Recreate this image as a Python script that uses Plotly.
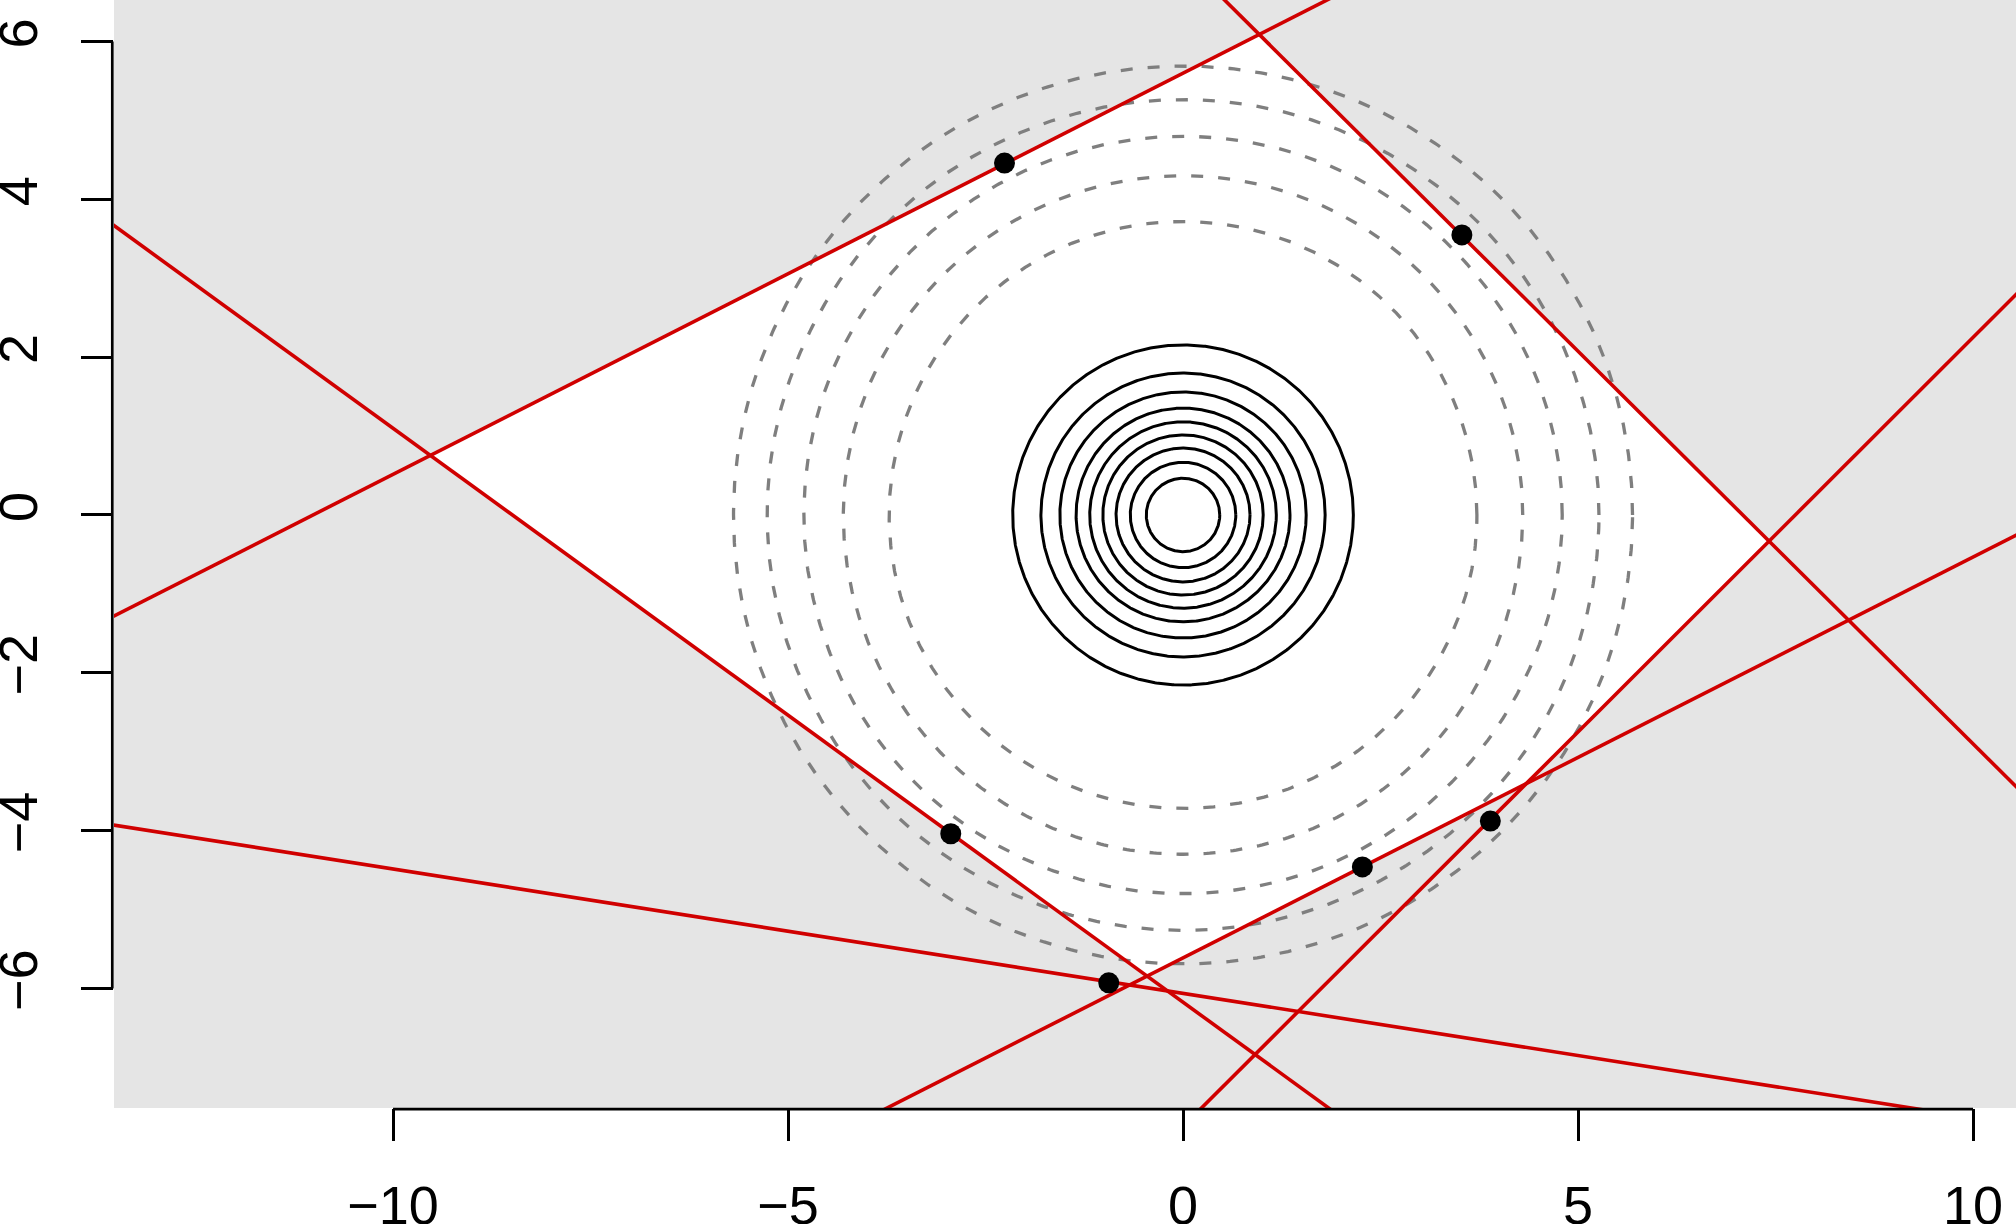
import numpy as np
import plotly.graph_objects as go

# ---- data ----
line_names = ["A", "B", "C", "D", "E", "F"]
line_slopes = [-0.7274, 0.5085, -0.995, 1.0, 0.508, -0.1576]
line_intercepts = [-6.175, 5.60, 7.05, -7.75, -5.613, -6.063]

point_x = [-2.26, 3.53, -2.94, 2.27, 3.89, -0.94]
point_y = [4.46, 3.55, -4.04, -4.46, -3.88, -5.93]

dashed_radii = [3.72, 4.30, 4.80, 5.265, 5.69]
solid_radii = [0.465, 0.668, 0.848, 1.015, 1.181, 1.354, 1.559, 1.799, 2.156]

x_ticks = [-10, -5, 0, 5, 10]
y_ticks = [-6, -4, -2, 0, 2, 4, 6]

X_RANGE = [-13.532, 10.544]
Y_RANGE = [-7.516, 6.527]

RED = "#D00000"
GRAY_BG = "#E5E5E5"
DASH_GRAY = "#7F7F7F"


def clip_halfplane(poly, m, c):
    """Keep part of polygon on the origin side of y = m x + c."""
    s0 = np.sign(-c) if c != 0 else 1.0

    def f(p):
        return s0 * (p[1] - (m * p[0] + c))

    out = []
    n = len(poly)
    for i in range(n):
        p, q = poly[i], poly[(i + 1) % n]
        fp, fq = f(p), f(q)
        if fp >= 0:
            out.append(p)
        if (fp >= 0) != (fq >= 0):
            t = fp / (fp - fq)
            out.append((p[0] + t * (q[0] - p[0]), p[1] + t * (q[1] - p[1])))
    return out


# feasible (white) region = intersection of half-planes containing the origin
poly = [(-50, -50), (50, -50), (50, 50), (-50, 50)]
for m, c in zip(line_slopes, line_intercepts):
    poly = clip_halfplane(poly, m, c)
px = [p[0] for p in poly] + [poly[0][0]]
py = [p[1] for p in poly] + [poly[0][1]]

fig = go.Figure()
fig.add_trace(go.Scatter(x=px, y=py, mode="lines", fill="toself",
                         fillcolor="white", line=dict(width=0, color="white"),
                         hoverinfo="skip", showlegend=False))

theta = np.linspace(0, 2 * np.pi, 721)
for r in dashed_radii:
    fig.add_trace(go.Scatter(x=r * np.cos(theta), y=r * np.sin(theta), mode="lines",
                             line=dict(color=DASH_GRAY, width=3.3, dash="12px,15px"),
                             hoverinfo="skip", showlegend=False))
for r in solid_radii:
    fig.add_trace(go.Scatter(x=r * np.cos(theta), y=r * np.sin(theta), mode="lines",
                             line=dict(color="black", width=3.0),
                             hoverinfo="skip", showlegend=False))

xs = np.array([-20.0, 20.0])
for name, m, c in zip(line_names, line_slopes, line_intercepts):
    fig.add_trace(go.Scatter(x=xs, y=m * xs + c, mode="lines", name=name,
                             line=dict(color=RED, width=3.6),
                             hoverinfo="skip", showlegend=False))

fig.add_trace(go.Scatter(x=point_x, y=point_y, mode="markers",
                         marker=dict(color="black", size=21),
                         hoverinfo="skip", showlegend=False))

# R-style axis lines spanning only the tick range
fig.add_shape(type="line", xref="x", yref="paper", x0=min(x_ticks), x1=max(x_ticks),
              y0=-0.001, y1=-0.001, line=dict(color="black", width=2.7))
fig.add_shape(type="line", xref="paper", yref="y", x0=-0.0009, x1=-0.0009,
              y0=min(y_ticks), y1=max(y_ticks), line=dict(color="black", width=2.7))

tickfont = dict(family="Liberation Sans, Arial, sans-serif", size=54, color="black")
fig.update_xaxes(range=X_RANGE, showgrid=False, zeroline=False, showline=False,
                 automargin=False,
                 tickmode="array", tickvals=x_ticks, ticks="outside", ticklen=32,
                 tickwidth=2.7, tickcolor="black", tickfont=tickfont,
                 ticklabelstandoff=18)
fig.update_yaxes(range=Y_RANGE, showgrid=False, zeroline=False, showline=False,
                 automargin=False,
                 tickmode="array", tickvals=y_ticks, ticks="outside", ticklen=32,
                 tickwidth=2.7, tickcolor="black", tickfont=tickfont, tickangle=-90,
                 ticklabelstandoff=22)

fig.update_layout(width=2016, height=1224, margin=dict(l=114, r=0, t=0, b=116),
                  plot_bgcolor=GRAY_BG, paper_bgcolor="white", showlegend=False)

fig.write_html("out.html", config={"displayModeBar": False},
               post_script="document.body.style.margin='0';"
                           "document.body.style.overflow='hidden';")
